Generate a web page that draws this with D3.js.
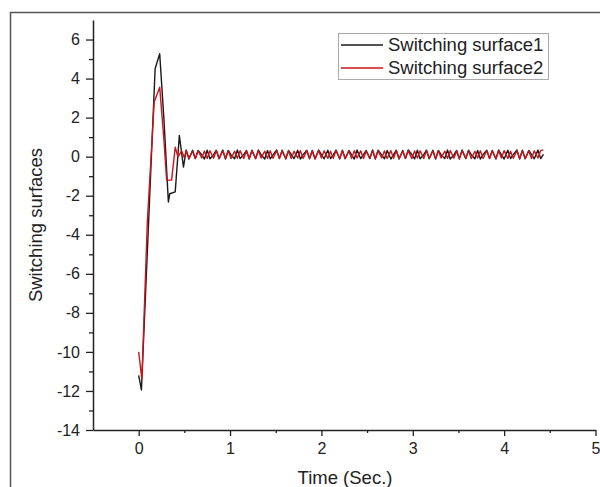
<!DOCTYPE html>
<html>
<head>
<meta charset="utf-8">
<script src="https://cdn.jsdelivr.net/npm/d3@7"></script>
<style>
  body { margin: 0; background: #fff; }
  svg { display: block; font-family: "Liberation Sans", Arial, sans-serif; }
</style>
</head>
<body>
<script>
// start of the response (different sample times per curve)
var timeStart1 = [0, 0.03, 0.08, 0.13, 0.18, 0.23, 0.277, 0.325, 0.34, 0.40, 0.445, 0.49];
var surface1Start = [-11.2, -11.95, -6.5, -1.0, 4.5, 5.27, 1.86, -2.32, -1.9, -1.8, 1.09, -0.53];
var timeStart2 = [0, 0.035, 0.095, 0.17, 0.23, 0.277, 0.306, 0.36, 0.40, 0.43, 0.47, 0.50];
var surface2Start = [-10.0, -11.4, -3.3, 2.8, 3.56, 0.8, -1.2, -1.2, 0.49, -0.02, 0.3, -0.05];

// chattering part, shared time samples
var timeSteady = [
  0.52, 0.55, 0.59, 0.62, 0.65, 0.69, 0.72, 0.75, 0.78, 0.82,
  0.85, 0.88, 0.92, 0.95, 0.98, 1.01, 1.05, 1.08, 1.11, 1.15,
  1.18, 1.21, 1.24, 1.28, 1.31, 1.34, 1.38, 1.41, 1.44, 1.47,
  1.51, 1.54, 1.57, 1.61, 1.64, 1.67, 1.70, 1.74, 1.77, 1.80,
  1.84, 1.87, 1.90, 1.93, 1.97, 2.00, 2.03, 2.07, 2.10, 2.13,
  2.16, 2.20, 2.23, 2.26, 2.30, 2.33, 2.36, 2.39, 2.43, 2.46,
  2.49, 2.53, 2.56, 2.59, 2.62, 2.66, 2.69, 2.72, 2.76, 2.79,
  2.82, 2.85, 2.89, 2.92, 2.95, 2.99, 3.02, 3.05, 3.08, 3.12,
  3.15, 3.18, 3.22, 3.25, 3.28, 3.31, 3.35, 3.38, 3.41, 3.45,
  3.48, 3.51, 3.54, 3.58, 3.61, 3.64, 3.68, 3.71, 3.74, 3.77,
  3.81, 3.84, 3.87, 3.91, 3.94, 3.97, 4.00, 4.04, 4.07, 4.10,
  4.14, 4.17, 4.20, 4.23, 4.27, 4.30, 4.33, 4.37, 4.40, 4.43
];
var surface1Steady = [
  0.34, -0.12, 0.33, -0.10, 0.32, 0.10, -0.12, 0.33, -0.11, 0.10,
  0.33, -0.11, 0.34, -0.12, 0.32, 0.09, -0.11, 0.34, -0.10, 0.11,
  0.32, -0.12, 0.33, -0.10, 0.34, 0.10, -0.12, 0.32, -0.11, 0.09,
  0.34, -0.10, 0.33, -0.12, 0.32, 0.11, -0.10, 0.33, -0.12, 0.10,
  0.33, -0.11, 0.32, -0.12, 0.34, 0.10, -0.11, 0.33, -0.10, 0.09,
  0.34, -0.12, 0.33, -0.11, 0.32, 0.10, -0.12, 0.34, -0.10, 0.11,
  0.32, -0.10, 0.34, -0.12, 0.33, 0.09, -0.11, 0.32, -0.12, 0.10,
  0.33, -0.12, 0.32, -0.10, 0.34, 0.11, -0.12, 0.33, -0.11, 0.10,
  0.34, -0.11, 0.33, -0.12, 0.32, 0.10, -0.10, 0.34, -0.12, 0.09,
  0.32, -0.12, 0.34, -0.10, 0.33, 0.10, -0.11, 0.32, -0.12, 0.11,
  0.33, -0.10, 0.32, -0.12, 0.34, 0.09, -0.12, 0.33, -0.10, 0.10,
  0.34, -0.12, 0.33, -0.11, 0.32, 0.10, -0.11, 0.34, -0.10, 0.12
];
var surface2Steady = [
  0.30, -0.08, 0.28, -0.10, 0.31, -0.07, 0.29, -0.09, 0.30, -0.08,
  0.31, -0.09, 0.29, -0.07, 0.30, -0.10, 0.28, -0.08, 0.31, -0.09,
  0.29, -0.08, 0.30, -0.10, 0.31, -0.07, 0.28, -0.09, 0.30, -0.08,
  0.31, -0.09, 0.29, -0.08, 0.30, -0.10, 0.28, -0.07, 0.31, -0.09,
  0.30, -0.08, 0.29, -0.10, 0.31, -0.07, 0.30, -0.09, 0.28, -0.08,
  0.31, -0.09, 0.30, -0.08, 0.29, -0.10, 0.31, -0.07, 0.30, -0.09,
  0.28, -0.08, 0.31, -0.10, 0.30, -0.07, 0.29, -0.09, 0.31, -0.08,
  0.30, -0.09, 0.28, -0.08, 0.31, -0.10, 0.29, -0.07, 0.30, -0.09,
  0.31, -0.08, 0.29, -0.10, 0.30, -0.07, 0.28, -0.09, 0.31, -0.08,
  0.29, -0.09, 0.30, -0.08, 0.31, -0.10, 0.28, -0.07, 0.30, -0.09,
  0.31, -0.08, 0.29, -0.10, 0.30, -0.07, 0.31, -0.09, 0.28, -0.08,
  0.30, -0.09, 0.31, -0.08, 0.29, -0.10, 0.30, -0.07, 0.31, 0.35
];

var seriesNames = ["Switching surface1", "Switching surface2"];
var seriesColors = ["#1a1a1a", "#c8161d"];
var xTicks = [0, 1, 2, 3, 4, 5];
var yTicks = [-14, -12, -10, -8, -6, -4, -2, 0, 2, 4, 6];
var xMinorTicks = [0.5, 1.5, 2.5, 3.5, 4.5];
var yMinorTicks = [-13, -11, -9, -7, -5, -3, -1, 1, 3, 5];

var w = 600, h = 487;

var svg = d3.select("body").append("svg")
    .attr("width", w)
    .attr("height", h);

// outer frame of the figure (runs off the page right and bottom)
svg.append("rect")
    .attr("x", 10.5).attr("y", 12.5)
    .attr("width", 620).attr("height", 500)
    .attr("fill", "none")
    .attr("stroke", "#555")
    .attr("stroke-width", 1.5);

var x = d3.scaleLinear().domain([-0.5, 5]).range([93, 595.5]);
var y = d3.scaleLinear().domain([-14, 7]).range([430, 20]);

function buildSeries(t1, v1) {
    return t1.map(function (t, i) { return [t, v1[i]]; });
}
var data1 = buildSeries(timeStart1, surface1Start).concat(buildSeries(timeSteady, surface1Steady));
var data2 = buildSeries(timeStart2, surface2Start).concat(buildSeries(timeSteady, surface2Steady));

var line = d3.line()
    .x(function (d) { return x(d[0]); })
    .y(function (d) { return y(d[1]); });

[data1, data2].forEach(function (d, i) {
    svg.append("path")
        .datum(d)
        .attr("d", line)
        .attr("fill", "none")
        .attr("stroke", seriesColors[i])
        .attr("stroke-width", 1.4)
        .attr("stroke-linejoin", "round");
});

// minor ticks first, then the labelled major axes
svg.append("g")
    .attr("transform", "translate(0,430)")
    .call(d3.axisBottom(x).tickValues(xMinorTicks).tickFormat("").tickSizeInner(3).tickSizeOuter(0))
    .select(".domain").remove();
svg.append("g")
    .attr("transform", "translate(93,0)")
    .call(d3.axisLeft(y).tickValues(yMinorTicks).tickFormat("").tickSizeInner(4).tickSizeOuter(0))
    .select(".domain").remove();

var xAxis = svg.append("g")
    .attr("transform", "translate(0,430)")
    .call(d3.axisBottom(x).tickValues(xTicks).tickFormat(d3.format("d"))
        .tickSizeInner(6).tickSizeOuter(0).tickPadding(7));

var yAxis = svg.append("g")
    .attr("transform", "translate(93,0)")
    .call(d3.axisLeft(y).tickValues(yTicks)
        .tickFormat(function (d) { return d < 0 ? "-" + Math.abs(d) : d; })
        .tickSizeInner(7).tickSizeOuter(0).tickPadding(6));

svg.selectAll(".tick line").attr("stroke", "#222").attr("stroke-width", 1.3);
svg.selectAll(".domain").attr("stroke", "#222").attr("stroke-width", 1.5);
svg.selectAll(".tick text")
    .attr("font-size", 16)
    .attr("fill", "#222");

// axis titles
svg.append("text")
    .attr("x", 345).attr("y", 484)
    .attr("text-anchor", "middle")
    .attr("font-size", 18.5)
    .attr("fill", "#222")
    .text("Time (Sec.)");

svg.append("text")
    .attr("transform", "translate(42,225) rotate(-90)")
    .attr("text-anchor", "middle")
    .attr("font-size", 18.5)
    .attr("fill", "#222")
    .text("Switching surfaces");

// legend
var legend = svg.append("g").attr("transform", "translate(338,33)");
legend.append("rect")
    .attr("x", 0.5).attr("y", 0.5)
    .attr("width", 210).attr("height", 46)
    .attr("fill", "#fff")
    .attr("stroke", "#aaa")
    .attr("stroke-width", 1);

seriesNames.forEach(function (name, i) {
    var ly = 12 + i * 23;
    legend.append("line")
        .attr("x1", 3).attr("x2", 45)
        .attr("y1", ly).attr("y2", ly)
        .attr("stroke", seriesColors[i])
        .attr("stroke-width", 1.5);
    legend.append("text")
        .attr("x", 50).attr("y", ly)
        .attr("dy", "0.35em")
        .attr("font-size", 18.5)
        .attr("fill", "#222")
        .text(name);
});
</script>
</body>
</html>
